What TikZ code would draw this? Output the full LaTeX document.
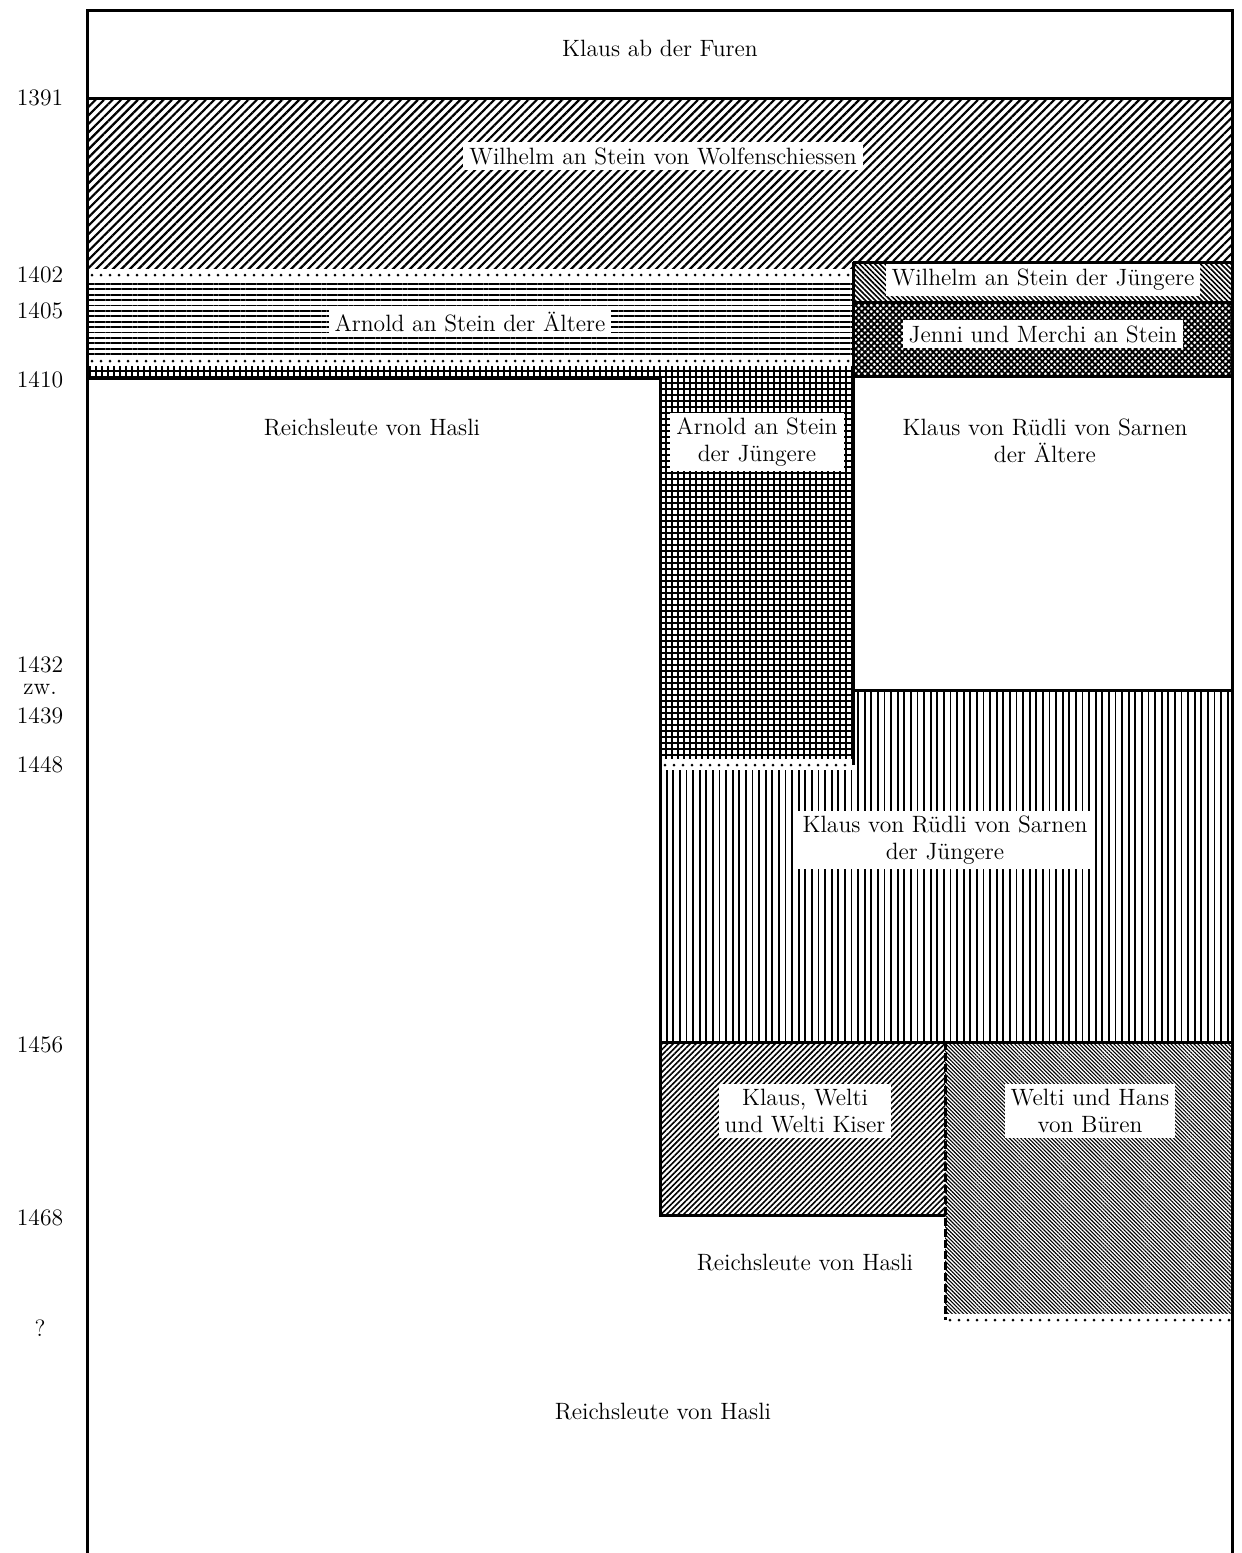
\documentclass[tikz,border=0pt]{standalone}
\usetikzlibrary{patterns.meta}

\begin{document}
\begin{tikzpicture}[x=0.5pt,y=-0.5pt,
      rule/.style={line width=1.5pt},
      lbl/.style={font=\fontsize{11.8}{13.5}\selectfont,align=center,fill=white,inner xsep=3pt,inner ysep=2.5pt},
      plain/.style={font=\fontsize{11.8}{13.5}\selectfont,align=center},
      yr/.style={font=\fontsize{11.8}{12}\selectfont},
      dotrow/.style={line width=1.5pt,line cap=round,dash pattern=on 0pt off 4.5pt}]
    \useasboundingbox (0,0) rectangle (1242,1553);
    \fill[white] (0,0) rectangle (1242,1553);
    % hatched holdings
    \fill[pattern={Lines[angle=45,distance=3pt,line width=1.1pt]}]
      (87,98) -- (1232,98) -- (1232,262) -- (853,262) -- (853,275) -- (87,275) -- cycle;
    \fill[pattern={Lines[angle=0,distance=2.7pt,line width=0.9pt]}] (87,275) rectangle (853,361);
    \fill[pattern={Hatch[angle=0,distance=3pt,line width=1.4pt]}]
      (87,361) -- (853,361) -- (853,765) -- (660,765) -- (660,378) -- (87,378) -- cycle;
    \fill[pattern={Lines[angle=-45,distance=1.8pt,line width=0.8pt]}] (853,262) rectangle (1232,302);
    \fill[pattern={Hatch[angle=45,distance=2.2pt,line width=0.95pt]}] (853,302) rectangle (1232,376);
    \fill[pattern={Lines[angle=90,distance=3.3pt,line width=0.9pt]}]
      (660,765) -- (853,765) -- (853,690) -- (1232,690) -- (1232,1042) -- (660,1042) -- cycle;
    \fill[pattern={Lines[angle=45,distance=2pt,line width=0.8pt]}] (660,1042) rectangle (945,1215);
    \fill[pattern={Lines[angle=-45,distance=1.35pt,line width=0.55pt]}] (945,1042) rectangle (1232,1320);
    % dotted borders
    \fill[white] (87,269) rectangle (853,281);
    \draw[dotrow] (92,275) -- (853,275);
    \fill[white] (87,355) rectangle (853,366);
    \draw[dotrow] (92,361) -- (853,361);
    \fill[white] (660,759) rectangle (853,770);
    \draw[dotrow] (665,765) -- (853,765);
    \fill[white] (945,1314) rectangle (1232,1326);
    \draw[dotrow] (950,1320) -- (1232,1320);
    % frame and boundaries
    \draw[rule] (87,1553) -- (87,10) -- (1232,10) -- (1232,1553);
    \draw[rule] (87,98) -- (1232,98);
    \draw[rule] (853,262) -- (1232,262);
    \draw[rule] (853,302) -- (1232,302);
    \draw[rule] (853,376) -- (1232,376);
    \draw[rule] (853,262) -- (853,765);
    \draw[rule] (87,378) -- (660,378) -- (660,1215) -- (945,1215);
    \draw[rule] (853,690) -- (1232,690);
    \draw[rule] (660,1042) -- (1232,1042);
    \draw[rule,dash pattern=on 4pt off 1.5pt] (945,1042) -- (945,1320);
    % years
    \foreach \y/\t [count=\i] in {98/1391, 275/1402, 311/1405, 380/1410, 665/1432, 690/zw., 716/1439,
        765/1448, 1045/1456, 1218/1468, 1328/?} {
      \node[yr] (yr\i) at (40,\y) {\t};
    }
    % holders
    \node[plain] (furen) at (660,48) {Klaus ab der Furen};
    \node[lbl] (wolf) at (663,156) {Wilhelm an Stein von Wolfenschiessen};
    \node[lbl] (arnoldA) at (470,322) {Arnold an Stein der Ältere};
    \node[lbl] (wilhelmJ) at (1043,280) {Wilhelm an Stein der Jüngere};
    \node[lbl] (jenni) at (1043,334) {Jenni und Merchi an Stein};
    \node[plain] (hasliA) at (372,428) {Reichsleute von Hasli};
    \node[lbl] (arnoldJ) at (757,442) {Arnold an Stein\\der Jüngere};
    \node[plain] (klausA) at (1045,441) {Klaus von Rüdli von Sarnen\\der Ältere};
    \node[lbl] (klausJ) at (945,840) {Klaus von Rüdli von Sarnen\\der Jüngere};
    \node[lbl] (kiser) at (805,1111) {Klaus, Welti\\und Welti Kiser};
    \node[lbl] (bueren) at (1090,1111) {Welti und Hans\\von Büren};
    \node[plain] (hasliB) at (805,1263) {Reichsleute von Hasli};
    \node[plain] (hasliC) at (663,1412) {Reichsleute von Hasli};
  \end{tikzpicture}
\end{document}
